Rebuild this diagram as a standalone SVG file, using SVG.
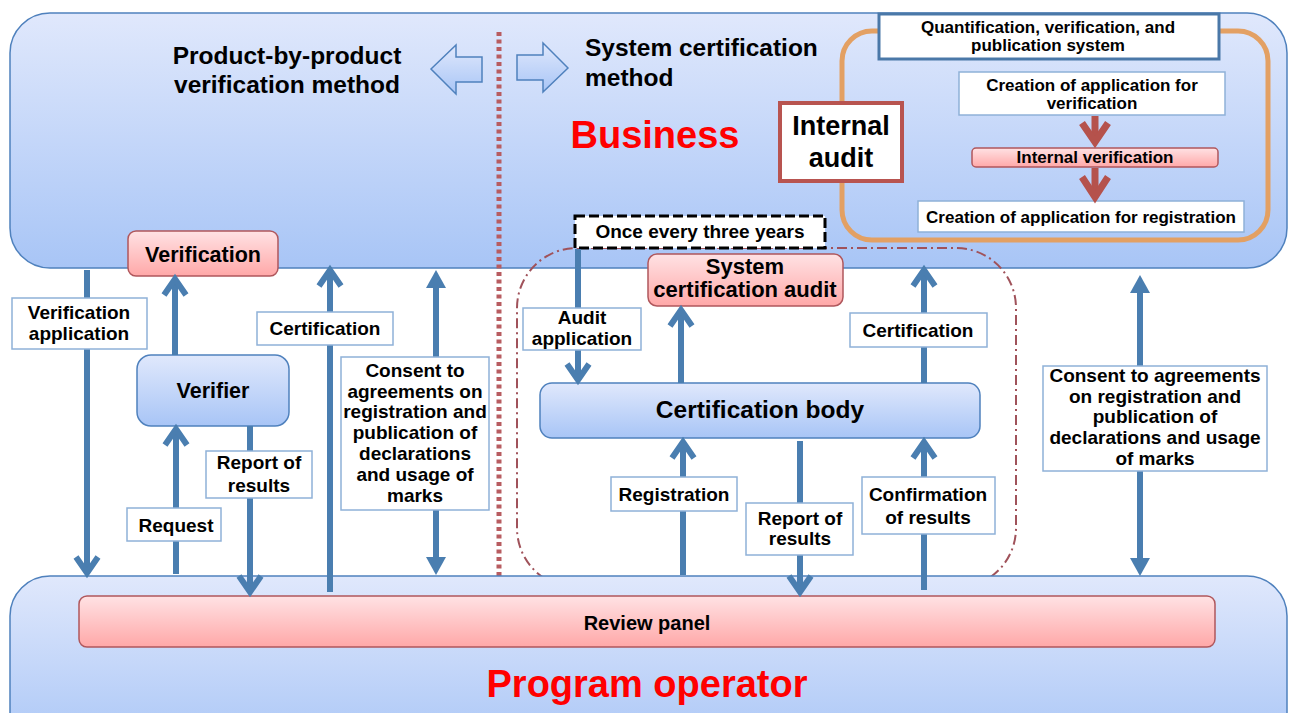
<svg xmlns="http://www.w3.org/2000/svg" width="1290" height="713" viewBox="0 0 1290 713">
<defs>
<linearGradient id="gBlue" x1="0" y1="0" x2="0" y2="1"><stop offset="0" stop-color="#e0e8fc"/><stop offset="1" stop-color="#a8c5f6"/></linearGradient>
<linearGradient id="gPink" x1="0" y1="0" x2="0" y2="1"><stop offset="0" stop-color="#ffe2e4"/><stop offset="1" stop-color="#ffa8a8"/></linearGradient>
<marker id="chev" markerUnits="userSpaceOnUse" viewBox="-22 -16 30 32" markerWidth="30" markerHeight="32" refX="0" refY="0" orient="auto" overflow="visible">
<path d="M-16,-11 L0,0 L-16,11" fill="none" stroke="#4a7eb0" stroke-width="6"/>
</marker>
<marker id="tri" markerUnits="userSpaceOnUse" viewBox="-2 -12 22 24" markerWidth="22" markerHeight="24" refX="0" refY="0" orient="auto-start-reverse" overflow="visible">
<path d="M0,-10 L18,0 L0,10 Z" fill="#4a7eb0"/>
</marker>
<style>
text{font-family:"Liberation Sans",Arial,sans-serif;font-weight:bold;fill:#000;text-anchor:middle}
.big{fill:#ff0000;font-size:38px}
.lbl{fill:#fff;stroke:#8fb1d8;stroke-width:1.5}
.l19{font-size:19px}
.l17{font-size:17px}
.conn{stroke:#4a7eb0;stroke-width:6;fill:none}
.pink{fill:url(#gPink);stroke:#b0575c;stroke-width:1.5}
.blue{fill:url(#gBlue);stroke:#4f81bd;stroke-width:1.5}
.red{stroke:#b5524c;stroke-width:7;fill:none}
</style>
</defs>

<g id="business">
<rect x="10" y="13" width="1277" height="255" rx="40" class="blue"/>
<text x="655" y="148" class="big">Business</text>
</g>

<g id="divider">
<line x1="499" y1="32" x2="499" y2="576" stroke="#b85c60" stroke-width="5" stroke-dasharray="4 3.5"/>
</g>

<g id="method-arrows">
<path d="M431,69 L456,45 L456,57 L482,57 L482,82 L456,82 L456,94 Z" fill="url(#gBlue)" stroke="#4f81bd" stroke-width="1.5"/>
<path d="M568,68 L543,43 L543,55 L517,55 L517,80 L543,80 L543,92 Z" fill="url(#gBlue)" stroke="#4f81bd" stroke-width="1.5"/>
<text x="287" y="64" style="font-size:24.5px">Product-by-product</text>
<text x="287" y="93" style="font-size:24.5px">verification method</text>
<text x="585" y="56" style="font-size:24.5px;text-anchor:start">System certification</text>
<text x="585" y="86" style="font-size:24.5px;text-anchor:start">method</text>
</g>

<g id="system-cert-region">
<rect x="517" y="248" width="499" height="340" rx="60" fill="none" stroke="#a0525a" stroke-width="2" stroke-dasharray="10 4 2 4"/>
</g>

<g id="quant-system">
<rect x="842" y="31" width="426" height="209" rx="30" fill="none" stroke="#e3a063" stroke-width="5"/>
<rect x="879" y="14" width="340" height="45" fill="#fff" stroke="#4a78a8" stroke-width="3"/>
<text x="1048" y="33" class="l17">Quantification, verification, and</text>
<text x="1048" y="51" class="l17">publication system</text>
</g>

<g id="creation-verification">
<rect x="959" y="72" width="266" height="43" class="lbl"/>
<text x="1092" y="91" class="l17">Creation of application for</text>
<text x="1092" y="109" class="l17">verification</text>
</g>

<g id="internal-verification">
<rect x="972" y="148" width="246" height="19" rx="4" class="pink"/>
<text x="1095" y="163" class="l17">Internal verification</text>
</g>

<g id="creation-registration">
<rect x="918" y="201" width="326" height="31" class="lbl"/>
<text x="1081" y="223" class="l17">Creation of application for registration</text>
</g>

<g id="internal-audit">
<rect x="780" y="103" width="122" height="78" fill="#fff" stroke="#b85450" stroke-width="4"/>
<text x="841" y="135" style="font-size:27px">Internal</text>
<text x="841" y="167" style="font-size:27px">audit</text>
</g>

<g id="once-every-three-years">
<rect x="575" y="216" width="250" height="32" fill="#fff" stroke="#000" stroke-width="3" stroke-dasharray="10 4"/>
<text x="700" y="238" class="l19">Once every three years</text>
</g>

<g id="verification">
<rect x="128" y="231" width="150" height="45" rx="8" class="pink"/>
<text x="203" y="262" style="font-size:21.5px">Verification</text>
</g>

<g id="system-certification-audit">
<rect x="648" y="254" width="195" height="52" rx="9" class="pink"/>
<text x="745" y="274" style="font-size:22px">System</text>
<text x="745" y="297" style="font-size:22px">certification audit</text>
</g>

<g id="verifier">
<rect x="137" y="355" width="152" height="71" rx="14" class="blue"/>
<text x="213" y="398" style="font-size:21.5px">Verifier</text>
</g>

<g id="certification-body">
<rect x="540" y="383" width="440" height="55" rx="12" class="blue"/>
<text x="760" y="418" style="font-size:24.5px">Certification body</text>
</g>

<g id="program-operator">
<rect x="10" y="576" width="1277" height="180" rx="40" class="blue"/>
<text x="647" y="697" class="big">Program operator</text>
</g>

<g id="review-panel">
<rect x="79" y="596" width="1136" height="51" rx="8" class="pink"/>
<text x="647" y="630" style="font-size:20px">Review panel</text>
</g>

<g id="internal-flow-arrows">
<line x1="1095" y1="116" x2="1095" y2="140" class="red"/>
<polyline points="1082,123 1095,142 1108,123" class="red"/>
<line x1="1095" y1="168" x2="1095" y2="195" class="red"/>
<polyline points="1082,177 1095,197 1108,177" class="red"/>
</g>

<g id="connectors">
<line x1="87" y1="270" x2="87" y2="573" class="conn" marker-end="url(#chev)"/>
<line x1="175" y1="355" x2="175" y2="279" class="conn" marker-end="url(#chev)"/>
<line x1="176" y1="574" x2="176" y2="429" class="conn" marker-end="url(#chev)"/>
<line x1="250" y1="426" x2="250" y2="592" class="conn" marker-end="url(#chev)"/>
<line x1="330" y1="592" x2="330" y2="270" class="conn" marker-end="url(#chev)"/>
<line x1="436" y1="288" x2="436" y2="557" class="conn" marker-start="url(#tri)" marker-end="url(#tri)"/>
<line x1="578" y1="249" x2="578" y2="380" class="conn" marker-end="url(#chev)"/>
<line x1="681" y1="383" x2="681" y2="310" class="conn" marker-end="url(#chev)"/>
<line x1="924" y1="383" x2="924" y2="270" class="conn" marker-end="url(#chev)"/>
<line x1="683" y1="575" x2="683" y2="442" class="conn" marker-end="url(#chev)"/>
<line x1="800" y1="441" x2="800" y2="592" class="conn" marker-end="url(#chev)"/>
<line x1="924" y1="590" x2="924" y2="442" class="conn" marker-end="url(#chev)"/>
<line x1="1140" y1="293" x2="1140" y2="558" class="conn" marker-start="url(#tri)" marker-end="url(#tri)"/>
</g>

<g id="labels">
<rect x="12" y="298" width="135" height="51" class="lbl"/>
<text x="79" y="319" class="l19">Verification</text>
<text x="79" y="340" class="l19">application</text>

<rect x="127" y="508" width="94" height="33" class="lbl"/>
<text x="176" y="532" class="l19">Request</text>

<rect x="206" y="451" width="106" height="47" class="lbl"/>
<text x="259" y="469" class="l19">Report of</text>
<text x="259" y="492" class="l19">results</text>

<rect x="257" y="312" width="136" height="33" class="lbl"/>
<text x="325" y="335" class="l19">Certification</text>

<rect x="341" y="357" width="148" height="153" class="lbl"/>
<text x="415" y="377" class="l19">Consent to</text>
<text x="415" y="398" class="l19">agreements on</text>
<text x="415" y="418" class="l19">registration and</text>
<text x="415" y="439" class="l19">publication of</text>
<text x="415" y="460" class="l19">declarations</text>
<text x="415" y="481" class="l19">and usage of</text>
<text x="415" y="502" class="l19">marks</text>

<rect x="523" y="308" width="118" height="42" class="lbl"/>
<text x="582" y="324" class="l19">Audit</text>
<text x="582" y="345" class="l19">application</text>

<rect x="850" y="313" width="137" height="34" class="lbl"/>
<text x="918" y="337" class="l19">Certification</text>

<rect x="611" y="477" width="126" height="34" class="lbl"/>
<text x="674" y="501" class="l19">Registration</text>

<rect x="746" y="503" width="107" height="52" class="lbl"/>
<text x="800" y="525" class="l19">Report of</text>
<text x="800" y="545" class="l19">results</text>

<rect x="862" y="477" width="133" height="57" class="lbl"/>
<text x="928" y="501" class="l19">Confirmation</text>
<text x="928" y="524" class="l19">of results</text>

<rect x="1043" y="366" width="224" height="105" class="lbl"/>
<text x="1155" y="382" class="l19">Consent to agreements</text>
<text x="1155" y="403" class="l19">on registration and</text>
<text x="1155" y="423" class="l19">publication of</text>
<text x="1155" y="444" class="l19">declarations and usage</text>
<text x="1155" y="465" class="l19">of marks</text>
</g>
</svg>
